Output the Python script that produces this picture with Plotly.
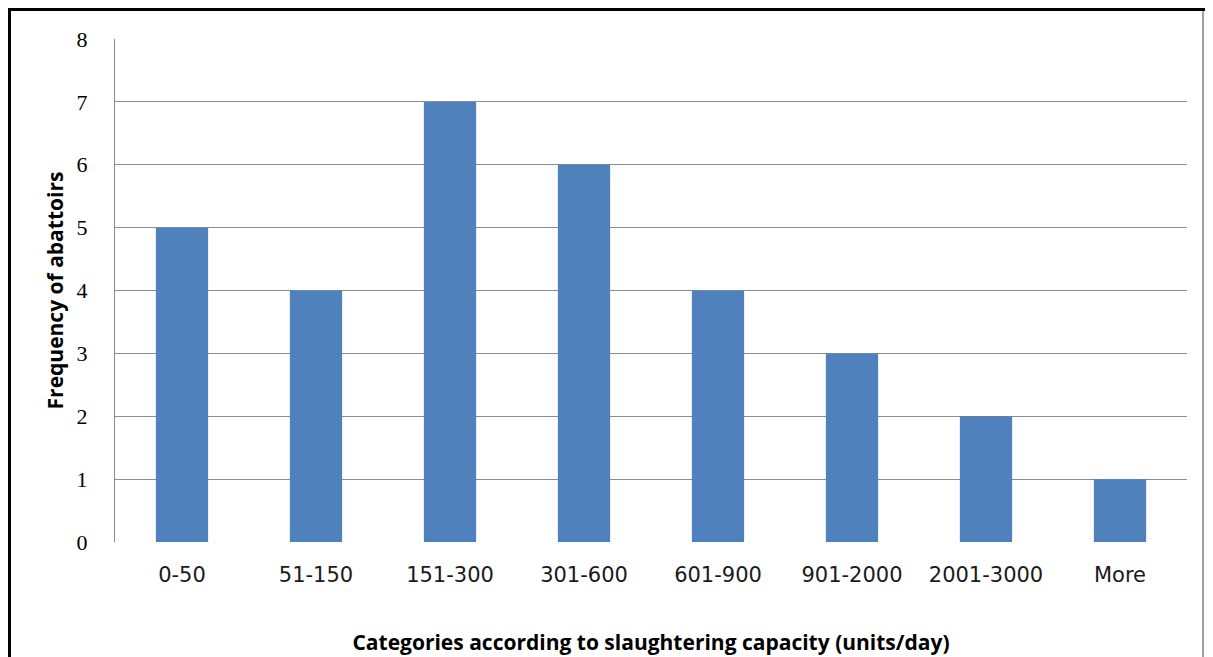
import plotly.graph_objects as go

categories = ["0-50", "51-150", "151-300", "301-600", "601-900", "901-2000", "2001-3000", "More"]
frequency = [5, 4, 7, 6, 4, 3, 2, 1]
y_ticks = [0, 1, 2, 3, 4, 5, 6, 7, 8]

OFF = 8  # page body margin
W, H = 1213 - OFF, 657 - OFF
L, R, T, B = 115 - OFF, 26, 39 - OFF, 115
pw, ph = W - L - R, H - T - B

fig = go.Figure(go.Bar(x=categories, y=frequency, marker=dict(color="#4F81BD", line=dict(width=0))))

def px_x(x):
    return (x - OFF - L) / pw

def px_y(y):
    return (H - B - (y - OFF)) / ph

fig.update_layout(
    width=W, height=H,
    margin=dict(l=L, r=R, t=T, b=B),
    paper_bgcolor="white", plot_bgcolor="white",
    bargap=0.61,
    showlegend=False,
    xaxis=dict(
        automargin=False,
        showgrid=False, showline=False, zeroline=False, ticks="",
        tickfont=dict(family="DejaVu Sans", size=21, color="#1a1a1a"),
        ticklabelstandoff=18,
        title=dict(text="<b>Categories according to slaughtering capacity (units/day)</b>",
                   font=dict(family="Open Sans", size=21, color="black"), standoff=49),
    ),
    yaxis=dict(
        automargin=False,
        range=[0, 8], tickvals=y_ticks,
        showgrid=True, gridcolor="#8c8c8c", gridwidth=1.3,
        showline=True, linecolor="#8c8c8c", linewidth=1.3,
        zeroline=False, ticks="",
        tickfont=dict(family="Liberation Serif", size=22, color="black"),
        ticklabelstandoff=22,
        title=dict(text="<b>Frequency of abattoirs</b>",
                   font=dict(family="Open Sans", size=21, color="black"), standoff=7),
    ),
    shapes=[
        dict(type="line", xref="paper", yref="paper",
             x0=px_x(1203), x1=px_x(1203), y0=px_y(9), y1=px_y(670),
             line=dict(color="#808080", width=1.5)),
        dict(type="line", xref="paper", yref="paper",
             x0=px_x(8), x1=px_x(1213), y0=px_y(9.5), y1=px_y(9.5),
             line=dict(color="black", width=3)),
        dict(type="line", xref="paper", yref="paper",
             x0=px_x(9.5), x1=px_x(9.5), y0=px_y(8), y1=px_y(670),
             line=dict(color="black", width=3)),
    ],
)

fig.write_html("out.html", config={"displayModeBar": False})
